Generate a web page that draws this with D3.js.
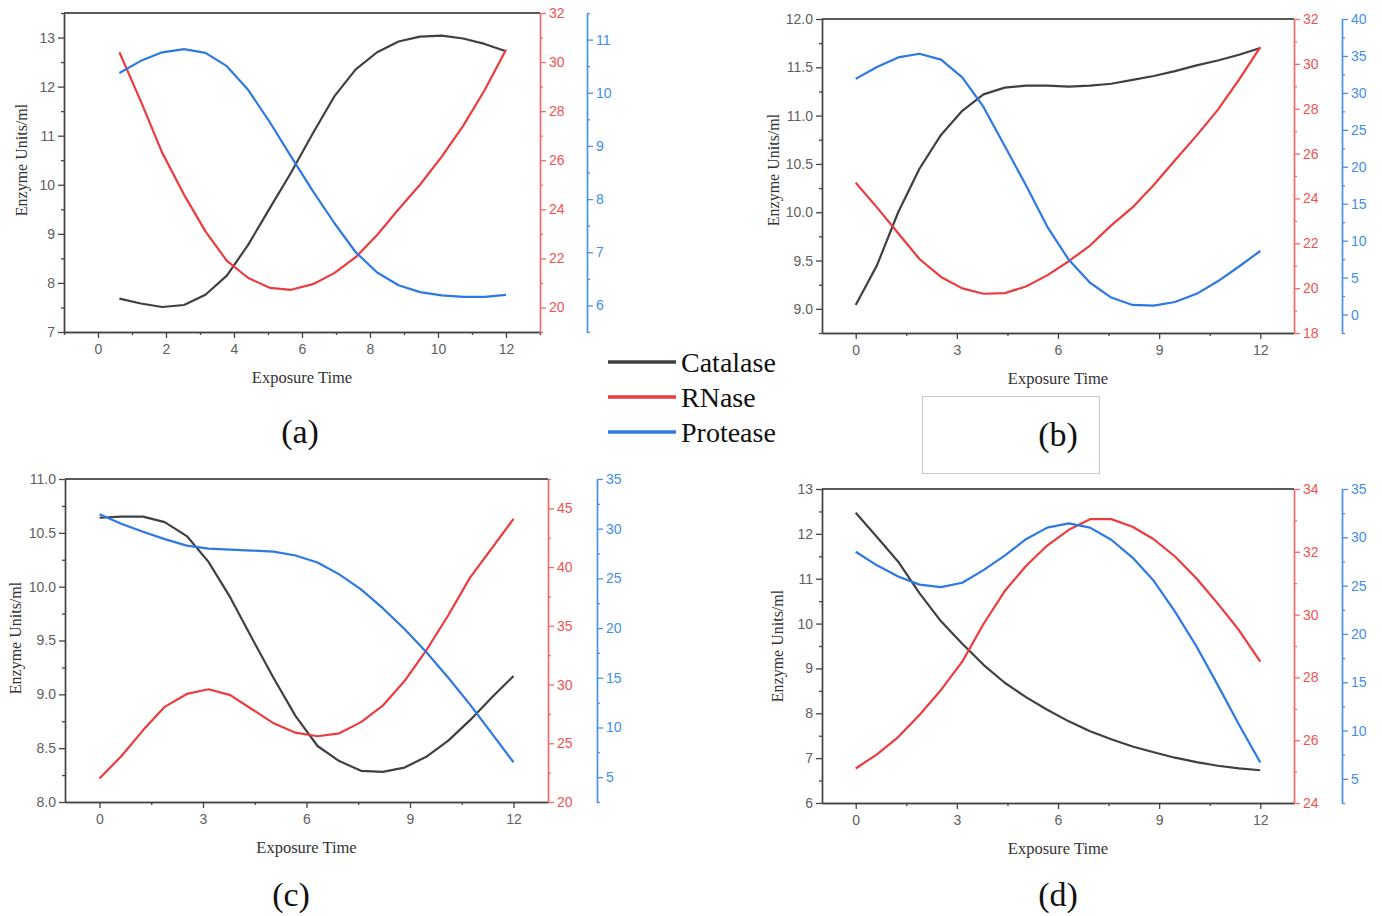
<!DOCTYPE html>
<html><head><meta charset="utf-8">
<script src="https://cdn.jsdelivr.net/npm/d3@7"></script>
<style>
html,body{margin:0;padding:0;background:#fff;}
svg{display:block;}
</style></head>
<body>
<svg id="chart" width="1382" height="916"></svg>
<script>
// ---------------- DATA ----------------
const seriesNames = ["Catalase", "RNase", "Protease"];
const panelLabels = ["(a)", "(b)", "(c)", "(d)"];

// exposure time samples
const timeA = [0.63,1.26,1.89,2.53,3.16,3.79,4.42,5.05,5.68,6.32,6.95,7.58,8.21,8.84,9.47,10.11,10.74,11.37,12];
const timeBCD = [0,0.63,1.26,1.89,2.53,3.16,3.79,4.42,5.05,5.68,6.32,6.95,7.58,8.21,8.84,9.47,10.11,10.74,11.37,12];

// panel (a)
const catalaseA = [7.68,7.58,7.51,7.55,7.76,8.15,8.78,9.52,10.25,11.05,11.8,12.35,12.7,12.92,13.02,13.04,12.98,12.87,12.72];
const rnaseA    = [30.4,28.4,26.3,24.6,23.1,21.9,21.2,20.8,20.72,20.95,21.4,22.05,22.95,24.0,25.0,26.15,27.4,28.85,30.5];
const proteaseA = [10.37,10.6,10.76,10.82,10.75,10.5,10.05,9.45,8.8,8.15,7.55,7.0,6.62,6.38,6.25,6.19,6.16,6.16,6.2];

// panel (b)
const catalaseB = [9.04,9.45,10.0,10.45,10.8,11.05,11.22,11.29,11.31,11.31,11.30,11.31,11.33,11.37,11.41,11.46,11.52,11.57,11.63,11.70];
const rnaseB    = [24.7,23.6,22.45,21.3,20.5,19.99,19.75,19.78,20.07,20.57,21.2,21.9,22.8,23.6,24.6,25.7,26.8,27.95,29.3,30.75];
const proteaseB = [31.9,33.5,34.8,35.3,34.5,32.1,28.1,22.8,17.5,11.9,7.4,4.3,2.3,1.3,1.2,1.7,2.8,4.5,6.5,8.6];

// panel (c)
const catalaseC = [10.64,10.65,10.65,10.6,10.47,10.23,9.9,9.52,9.15,8.8,8.52,8.38,8.29,8.28,8.32,8.42,8.57,8.76,8.97,9.17];
const rnaseC    = [22.0,23.9,26.1,28.1,29.2,29.6,29.1,27.9,26.7,25.9,25.6,25.85,26.8,28.2,30.3,32.9,35.9,39.1,41.6,44.1];
const proteaseC = [31.45,30.5,29.7,28.95,28.3,28.0,27.9,27.8,27.7,27.3,26.6,25.4,23.9,22.0,19.9,17.6,15.0,12.3,9.4,6.5];

// panel (d)
const catalaseD = [12.47,11.93,11.38,10.68,10.05,9.55,9.08,8.68,8.36,8.08,7.82,7.6,7.42,7.26,7.13,7.01,6.91,6.83,6.77,6.73];
const rnaseD    = [25.1,25.55,26.1,26.8,27.6,28.5,29.7,30.75,31.55,32.2,32.7,33.04,33.04,32.8,32.4,31.85,31.15,30.35,29.5,28.5];
const proteaseD = [28.5,27.1,25.95,25.1,24.85,25.3,26.6,28.1,29.8,31.0,31.45,31.0,29.75,27.9,25.5,22.3,18.7,14.7,10.6,6.7];

// axis ranges and ticks
const xRange = [-1, 13];
const xTicksA = [0,2,4,6,8,10,12];
const xTicksBCD = [0,3,6,9,12];

const leftRangeA = [7, 13.5],  leftTicksA = [7,8,9,10,11,12,13];
const redRangeA  = [19, 32],   redTicksA  = [20,22,24,26,28,30,32];
const blueRangeA = [5.5, 11.5],blueTicksA = [6,7,8,9,10,11];

const leftRangeB = [8.75, 12], leftTicksB = [9.0,9.5,10.0,10.5,11.0,11.5,12.0];
const redRangeB  = [18, 32],   redTicksB  = [18,20,22,24,26,28,30,32];
const blueRangeB = [-2.5, 40], blueTicksB = [0,5,10,15,20,25,30,35,40];

const leftRangeC = [8, 11],    leftTicksC = [8.0,8.5,9.0,9.5,10.0,10.5,11.0];
const redRangeC  = [20, 47.5], redTicksC  = [20,25,30,35,40,45];
const blueRangeC = [2.5, 35],  blueTicksC = [5,10,15,20,25,30,35];

const leftRangeD = [6, 13],    leftTicksD = [6,7,8,9,10,11,12,13];
const redRangeD  = [24, 34],   redTicksD  = [24,26,28,30,32,34];
const blueRangeD = [2.5, 35],  blueTicksD = [5,10,15,20,25,30,35];

// ---------------- STYLE / LAYOUT ----------------
const colors = { cat: "#404040", rna: "#ec3b3e", pro: "#2d78e2" };
const redAxisColor = "#f16d6d", redText = "#f05252";
const blueAxisColor = "#4b92e6", blueText = "#3f8eea";
const grayText = "#606060";
const sans = "'Liberation Sans', Arial, sans-serif";
const serif = "'Liberation Serif', 'Times New Roman', serif";

const panels = [
  { box:{left:64, right:540, blue:587, top:13, bottom:332}, titleX:21, titleY:160,
    time: timeA, cat: catalaseA, rna: rnaseA, pro: proteaseA, xTicks: xTicksA, xMinorStep: 1,
    leftR: leftRangeA, leftT: leftTicksA, leftMinor: 0.5, leftFmt: d3.format("d"),
    redR: redRangeA, redT: redTicksA, redMinor: 1,
    blueR: blueRangeA, blueT: blueTicksA, blueMinor: 0.5,
    label: { x: 300, y: 443 } },
  { box:{left:822, right:1294, blue:1342, top:19, bottom:333}, titleX:773, titleY:170,
    time: timeBCD, cat: catalaseB, rna: rnaseB, pro: proteaseB, xTicks: xTicksBCD, xMinorStep: 1.5,
    leftR: leftRangeB, leftT: leftTicksB, leftMinor: 0.25, leftFmt: d3.format(".1f"),
    redR: redRangeB, redT: redTicksB, redMinor: 1,
    blueR: blueRangeB, blueT: blueTicksB, blueMinor: 2.5,
    label: { x: 1058, y: 446 } },
  { box:{left:65, right:548, blue:597, top:479, bottom:802}, titleX:15, titleY:638,
    time: timeBCD, cat: catalaseC, rna: rnaseC, pro: proteaseC, xTicks: xTicksBCD, xMinorStep: 1.5,
    leftR: leftRangeC, leftT: leftTicksC, leftMinor: 0.25, leftFmt: d3.format(".1f"),
    redR: redRangeC, redT: redTicksC, redMinor: 2.5,
    blueR: blueRangeC, blueT: blueTicksC, blueMinor: 2.5,
    label: { x: 291, y: 906 } },
  { box:{left:822, right:1294, blue:1342, top:489, bottom:803}, titleX:777, titleY:646,
    time: timeBCD, cat: catalaseD, rna: rnaseD, pro: proteaseD, xTicks: xTicksBCD, xMinorStep: 1.5,
    leftR: leftRangeD, leftT: leftTicksD, leftMinor: 0.5, leftFmt: d3.format("d"),
    redR: redRangeD, redT: redTicksD, redMinor: 1,
    blueR: blueRangeD, blueT: blueTicksD, blueMinor: 2.5,
    label: { x: 1058, y: 906 } }
];

const svg = d3.select("#chart");
svg.append("rect").attr("width", 1382).attr("height", 916).attr("fill", "#fff");

function minorValues(domain, step) {
  const out = [];
  const start = Math.ceil(domain[0] / step - 1e-9) * step;
  for (let v = start; v <= domain[1] + 1e-9; v += step) out.push(+v.toFixed(6));
  return out;
}

function styleAxis(g, lineColor, textColor) {
  g.select(".domain").attr("stroke", lineColor).attr("stroke-width", 1.4);
  g.selectAll(".tick line").attr("stroke", lineColor).attr("stroke-width", 1.3);
  g.selectAll(".tick text").attr("fill", textColor)
    .style("font-family", sans).style("font-size", "14px");
}

panels.forEach((p, i) => {
  const b = p.box;
  const g = svg.append("g");
  const x = d3.scaleLinear().domain(xRange).range([b.left, b.right]);
  const yL = d3.scaleLinear().domain(p.leftR).range([b.bottom, b.top]);
  const yR = d3.scaleLinear().domain(p.redR).range([b.bottom, b.top]);
  const yB = d3.scaleLinear().domain(p.blueR).range([b.bottom, b.top]);

  // top frame
  g.append("line").attr("x1", b.left).attr("x2", b.right).attr("y1", b.top).attr("y2", b.top)
    .attr("stroke", "#222").attr("stroke-width", 1.3);

  // bottom axis
  const gxMinor = g.append("g").attr("transform", `translate(0,${b.bottom})`)
    .call(d3.axisBottom(x).tickValues(minorValues(xRange, p.xMinorStep).filter(v => !p.xTicks.includes(v)))
      .tickSize(3).tickSizeOuter(0).tickFormat(""));
  styleAxis(gxMinor, "#444", grayText);
  const gx = g.append("g").attr("transform", `translate(0,${b.bottom})`)
    .call(d3.axisBottom(x).tickValues(p.xTicks).tickSize(6).tickSizeOuter(0).tickPadding(6).tickFormat(d3.format("d")));
  styleAxis(gx, "#444", grayText);

  // left axis
  const glMinor = g.append("g").attr("transform", `translate(${b.left},0)`)
    .call(d3.axisLeft(yL).tickValues(minorValues(p.leftR, p.leftMinor).filter(v => !p.leftT.includes(v)))
      .tickSize(3).tickSizeOuter(0).tickFormat(""));
  styleAxis(glMinor, "#444", grayText);
  const gl = g.append("g").attr("transform", `translate(${b.left},0)`)
    .call(d3.axisLeft(yL).tickValues(p.leftT).tickSize(6).tickSizeOuter(0).tickPadding(3).tickFormat(p.leftFmt));
  styleAxis(gl, "#444", grayText);

  // red axis
  const grMinor = g.append("g").attr("transform", `translate(${b.right},0)`)
    .call(d3.axisRight(yR).tickValues(minorValues(p.redR, p.redMinor).filter(v => !p.redT.includes(v)))
      .tickSize(3).tickSizeOuter(0).tickFormat(""));
  styleAxis(grMinor, redAxisColor, redText);
  const gr = g.append("g").attr("transform", `translate(${b.right},0)`)
    .call(d3.axisRight(yR).tickValues(p.redT).tickSize(6).tickSizeOuter(0).tickPadding(3).tickFormat(d3.format("d")));
  styleAxis(gr, redAxisColor, redText);

  // blue axis
  const gbMinor = g.append("g").attr("transform", `translate(${b.blue},0)`)
    .call(d3.axisRight(yB).tickValues(minorValues(p.blueR, p.blueMinor).filter(v => !p.blueT.includes(v)))
      .tickSize(3).tickSizeOuter(0).tickFormat(""));
  styleAxis(gbMinor, blueAxisColor, blueText);
  const gb = g.append("g").attr("transform", `translate(${b.blue},0)`)
    .call(d3.axisRight(yB).tickValues(p.blueT).tickSize(6).tickSizeOuter(0).tickPadding(3).tickFormat(d3.format("d")));
  styleAxis(gb, blueAxisColor, blueText);

  // lines
  const mk = (ys) => d3.line().x((d, k) => x(p.time[k])).y(d => ys(d));
  [[p.cat, yL, colors.cat], [p.rna, yR, colors.rna], [p.pro, yB, colors.pro]].forEach(([vals, sc, col]) => {
    g.append("path").datum(vals).attr("d", mk(sc)).attr("fill", "none")
      .attr("stroke", col).attr("stroke-width", 2.2).attr("stroke-linejoin", "round");
  });

  // axis titles
  g.append("text").attr("x", (b.left + b.right) / 2).attr("y", b.bottom + 51)
    .attr("text-anchor", "middle").style("font-family", serif).style("font-size", "16.5px")
    .attr("fill", "#333").text("Exposure Time");
  g.append("text").attr("transform", `translate(${p.titleX},${p.titleY}) rotate(-90)`)
    .attr("text-anchor", "middle").attr("dy", "0.35em").style("font-family", serif).style("font-size", "16px")
    .attr("fill", "#333").text("Enzyme Units/ml");

  // panel label
  g.append("text").attr("x", p.label.x).attr("y", p.label.y).attr("text-anchor", "middle")
    .style("font-family", serif).style("font-size", "34px").attr("fill", "#111").text(panelLabels[i]);
});

// box around (b)
svg.append("rect").attr("x", 922.5).attr("y", 396.5).attr("width", 177).attr("height", 77)
  .attr("fill", "none").attr("stroke", "#c8c8c8").attr("stroke-width", 1);

// legend
const legendColors = [colors.cat, colors.rna, colors.pro];
const legendY = [362, 397, 432];
const lg = svg.append("g");
seriesNames.forEach((name, k) => {
  lg.append("line").attr("x1", 608).attr("x2", 676).attr("y1", legendY[k]).attr("y2", legendY[k])
    .attr("stroke", legendColors[k]).attr("stroke-width", 3.5);
  lg.append("text").attr("x", 681).attr("y", legendY[k] + 10)
    .style("font-family", serif).style("font-size", "28px").attr("fill", "#111").text(name);
});
</script>
</body></html>
